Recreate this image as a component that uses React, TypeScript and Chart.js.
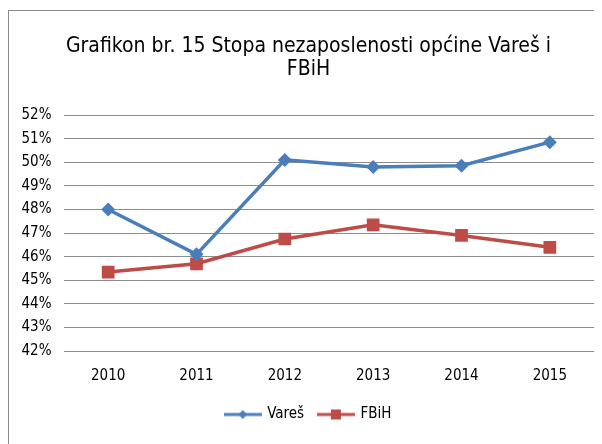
import React, { useEffect, useRef } from "react";
import { Chart, registerables } from "chart.js";

Chart.register(...registerables);

const categories = ["2010", "2011", "2012", "2013", "2014", "2015"];
const seriesNames = ["Vareš", "FBiH"];
const varesValues = [48.0, 46.1, 50.1, 49.8, 49.85, 50.85];
const fbihValues = [45.35, 45.7, 46.75, 47.35, 46.9, 46.4];
const titleLines = ["Grafikon br. 15 Stopa nezaposlenosti općine Vareš i", "FBiH"];

const BLUE = "#4A7EBB";
const RED = "#BE4B48";
const FONT = "'DejaVu Sans Condensed', 'DejaVu Sans', sans-serif";

function legendImage(color: string, shape: "diamond" | "square"): HTMLCanvasElement {
  const c = document.createElement("canvas");
  c.width = 38;
  c.height = 14;
  const ctx = c.getContext("2d")!;
  ctx.strokeStyle = color;
  ctx.lineWidth = 3;
  ctx.beginPath();
  ctx.moveTo(0, 7);
  ctx.lineTo(38, 7);
  ctx.stroke();
  ctx.fillStyle = color;
  if (shape === "diamond") {
    ctx.beginPath();
    ctx.moveTo(19, 2.5);
    ctx.lineTo(23.5, 7);
    ctx.lineTo(19, 11.5);
    ctx.lineTo(14.5, 7);
    ctx.closePath();
    ctx.fill();
  } else {
    ctx.fillRect(14, 2, 10, 10);
  }
  return c;
}

export default function App() {
  const ref = useRef<HTMLCanvasElement | null>(null);
  useEffect(() => {
    document.documentElement.style.overflow = "hidden";
    const imgs = [legendImage(BLUE, "diamond"), legendImage(RED, "square")];
    const chart = new Chart(ref.current!, {
      type: "line",
      data: {
        labels: categories,
        datasets: [
          {
            label: seriesNames[0],
            data: varesValues,
            borderColor: BLUE,
            backgroundColor: BLUE,
            borderWidth: 3.5,
            pointStyle: "rectRot",
            pointRadius: 7,
            pointBorderWidth: 0,
            tension: 0,
          },
          {
            label: seriesNames[1],
            data: fbihValues,
            borderColor: RED,
            backgroundColor: RED,
            borderWidth: 3.5,
            pointStyle: "rect",
            pointRadius: 9,
            pointBorderWidth: 0,
            tension: 0,
          },
        ],
      },
      options: {
        animation: false,
        responsive: false,
        layout: { padding: { left: 12, right: 7, top: 0, bottom: 12 } },
        plugins: {
          title: {
            display: true,
            text: titleLines,
            color: "#000",
            font: { family: FONT, size: 21, weight: "normal", lineHeight: 1.1 },
            padding: { top: 23.5, bottom: 34.3 },
          },
          legend: {
            position: "bottom",
            labels: {
              usePointStyle: true,
              pointStyleWidth: 34,
              color: "#000",
              font: { family: FONT, size: 15 },
              padding: 14.8,
              generateLabels: (ch: any) =>
                ch.data.datasets.map((ds: any, i: number) => ({
                  text: ds.label,
                  pointStyle: imgs[i],
                  fillStyle: ds.borderColor,
                  strokeStyle: ds.borderColor,
                  lineWidth: 0,
                  hidden: false,
                  datasetIndex: i,
                  fontColor: "#000",
                })),
            },
          },
          tooltip: { enabled: false },
        },
        scales: {
          x: {
            offset: true,
            grid: { display: false, drawTicks: false },
            border: { display: false },
            afterFit: (s: any) => {
              s.height = s.height - 9;
            },
            ticks: { color: "#000", font: { family: FONT, size: 15 }, padding: 16 },
          },
          y: {
            min: 42,
            max: 52,
            afterFit: (s: any) => {
              s.width = 43;
            },
            grid: { color: "#8c8c8c", drawTicks: false, lineWidth: 1 },
            border: { display: false },
            ticks: {
              stepSize: 1,
              autoSkip: false,
              color: "#000",
              font: { family: FONT, size: 15 },
              padding: 12.5,
              callback: (v: any) => v + "%",
            },
          },
        },
      },
    });
    return () => chart.destroy();
  }, []);
  return (
    <div
      style={{
        marginTop: 2,
        width: 600,
        height: 460,
        border: "1px solid #8a8a8a",
        boxSizing: "border-box",
        position: "relative",
      }}
    >
      <canvas ref={ref} width={594} height={433} style={{ display: "block" }} />
    </div>
  );
}
